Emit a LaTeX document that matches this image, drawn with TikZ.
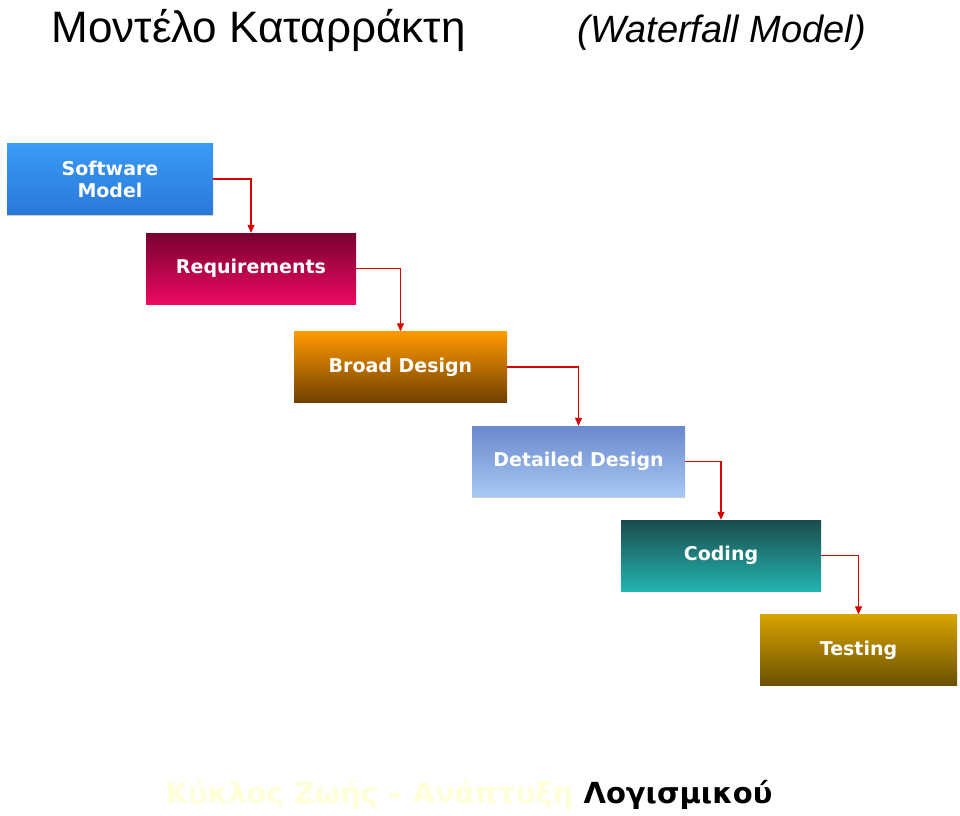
\documentclass[tikz,border=0pt]{standalone}
\usepackage{fontspec}
\setmainfont{Liberation Sans}
\newfontfamily\boxfont{DejaVu Sans}
\usetikzlibrary{positioning, arrows.meta}

\definecolor{smtop}{HTML}{3A9BF5}
\definecolor{smbot}{HTML}{2A78D8}
\definecolor{rqtop}{HTML}{780030}
\definecolor{rqbot}{HTML}{EC0A62}
\definecolor{bdtop}{HTML}{FF9A00}
\definecolor{bdbot}{HTML}{704000}
\definecolor{ddtop}{HTML}{6A88CC}
\definecolor{ddbot}{HTML}{A8C8F4}
\definecolor{cdtop}{HTML}{1A4C4C}
\definecolor{cdbot}{HTML}{22B4B0}
\definecolor{tstop}{HTML}{D8A400}
\definecolor{tsbot}{HTML}{6A5000}
\definecolor{faint}{HTML}{FFFFD8}

\tikzset{
  phase/.style={draw=none, minimum height=71pt, inner sep=0pt,
    font=\boxfont\bfseries\fontsize{19}{22}\selectfont, text=white, align=center},
  flow/.style={draw=red!85!black, line width=1.2pt, -{Triangle[length=8pt,width=7pt]}}
}

\begin{document}
\begin{tikzpicture}[x=1pt,y=-1pt]
  \useasboundingbox (0,0) rectangle (960,815);
  % title
  \node[anchor=base west, font=\fontsize{44}{48}\selectfont] (title) at (48,42) {Μοντέλο Καταρράκτη};
  \node[anchor=base west, font=\itshape\fontsize{38}{42}\selectfont] (subtitle) at (574,42) {(Waterfall Model)};
  % phases
  \node[phase, minimum width=206pt, top color=smtop, bottom color=smbot] (sw) at (110,179) {Software\\Model};
  \node[phase, minimum width=210pt, top color=rqtop, bottom color=rqbot] (req) at (251,268.5) {Requirements};
  \node[phase, minimum width=213pt, top color=bdtop, bottom color=bdbot] (broad) at (400.5,367) {Broad Design};
  \node[phase, minimum width=213pt, top color=ddtop, bottom color=ddbot] (det) at (578.5,461.5) {Detailed Design};
  \node[phase, minimum width=200pt, top color=cdtop, bottom color=cdbot] (cod) at (721,555.5) {Coding};
  \node[phase, minimum width=197pt, top color=tstop, bottom color=tsbot] (tst) at (858.5,650) {Testing};
  \draw[gray!40] (sw.south west) -- (sw.south east);
  \draw[gray!40] (det.south west) -- (det.south east);
  % connectors
  \foreach \a/\b in {sw/req, req/broad, broad/det, det/cod, cod/tst}
    \draw[flow] (\a.east) -| (\b.north);
  % footer
  \node[anchor=base, font=\boxfont\bfseries\fontsize{29}{32}\selectfont] (foot) at (469,803)
    {\textcolor{faint}{Κύκλος Ζωής – Ανάπτυξη} Λογισμικού};
\end{tikzpicture}
\end{document}
